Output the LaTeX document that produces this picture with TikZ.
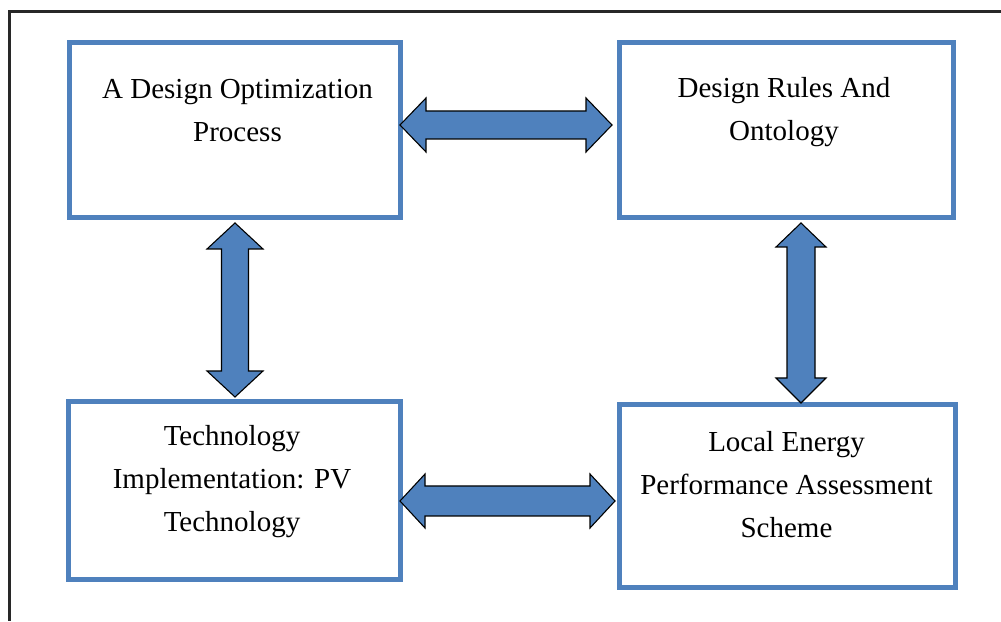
\documentclass[tikz,border=0pt]{standalone}
\usepackage{fontspec}
\setmainfont{Liberation Serif}
\usetikzlibrary{calc}
\definecolor{boxblue}{RGB}{79,129,189}
\definecolor{framegray}{RGB}{40,40,40}
\tikzset{
  box/.style={draw=boxblue, line width=5pt, fill=none, inner sep=0pt, outer sep=0pt},
  lbl/.style={font=\fontsize{29}{43}\selectfont, align=center, inner sep=0pt, anchor=north, text=black},
  dblarrow/.style={fill=boxblue, draw=black, line width=1.1pt, line join=miter},
  frameline/.style={draw=framegray, line width=2.2pt}
}
\begin{document}
\begin{tikzpicture}[x=1pt,y=1pt]
\useasboundingbox (0,0) rectangle (1001,621);
% outer frame (top and left edges)
\coordinate (f0) at (1001,609.5);
\coordinate (f1) at (9.5,609.5);
\coordinate (f2) at (9.5,0);
\draw[frameline] (f0) -- (f1) -- (f2);
% boxes
\node[box, minimum width=331.5pt, minimum height=175pt] (A) at (234.75,491) {};
\node[box, minimum width=334pt, minimum height=174.5pt] (B) at (786.5,490.75) {};
\node[box, minimum width=332.5pt, minimum height=177.5pt] (C) at (234.25,130.25) {};
\node[box, minimum width=336pt, minimum height=183pt] (D) at (787.5,124.5) {};
% labels
\node[lbl] (tA) at ($(A.north)+(2.75,-36.5)$) {A Design Optimization\\Process};
\node[lbl] (tB) at ($(B.north)+(-2.5,-34)$) {Design Rules And\\Ontology};
\node[lbl] (tC) at ($(C.north)+(-2.25,-23)$) {Technology\\Implementation: PV\\Technology};
\node[lbl] (tD) at ($(D.north)+(-1,-26)$) {Local Energy\\Performance Assessment\\Scheme};
% top double arrow A <-> B
\path[dblarrow] let \p1=($(A.east)+(-0.5,0)$), \p2=($(B.west)+(-7.5,0)$) in
  (\x1,496pt) -- (\x1+26pt,523pt) -- (\x1+26pt,510pt) -- (\x2-26pt,510pt) -- (\x2-26pt,523pt)
  -- (\x2,496pt) -- (\x2-26pt,469pt) -- (\x2-26pt,482pt) -- (\x1+26pt,482pt) -- (\x1+26pt,469pt) -- cycle;
% bottom double arrow C <-> D
\path[dblarrow] let \p1=($(C.east)+(-0.5,0)$), \p2=($(D.west)+(-4.5,0)$) in
  (\x1,120pt) -- (\x1+25pt,147pt) -- (\x1+25pt,135pt) -- (\x2-25pt,135pt) -- (\x2-25pt,147pt)
  -- (\x2,120pt) -- (\x2-25pt,93pt) -- (\x2-25pt,105pt) -- (\x1+25pt,105pt) -- (\x1+25pt,93pt) -- cycle;
% left vertical double arrow A <-> C
\path[dblarrow] let \p1=($(A.south)+(0.25,-5.5)$), \p2=($(C.north)+(0.75,5)$) in
  (\x1,\y1) -- (\x1+28pt,\y1-26pt) -- (\x1+13.5pt,\y1-26pt) -- (\x1+13.5pt,\y2+26pt) -- (\x1+28pt,\y2+26pt)
  -- (\x1,\y2) -- (\x1-28pt,\y2+26pt) -- (\x1-13.5pt,\y2+26pt) -- (\x1-13.5pt,\y1-26pt) -- (\x1-28pt,\y1-26pt) -- cycle;
% right vertical double arrow B <-> D
\path[dblarrow] let \p1=($(B.south)+(14.5,-5.5)$), \p2=($(D.north)+(13.5,2)$) in
  (\x1,\y1) -- (\x1+25pt,\y1-24pt) -- (\x1+14pt,\y1-24pt) -- (\x1+14pt,\y2+25pt) -- (\x1+25pt,\y2+25pt)
  -- (\x1,\y2) -- (\x1-25pt,\y2+25pt) -- (\x1-14pt,\y2+25pt) -- (\x1-14pt,\y1-24pt) -- (\x1-25pt,\y1-24pt) -- cycle;
\end{tikzpicture}
\end{document}
